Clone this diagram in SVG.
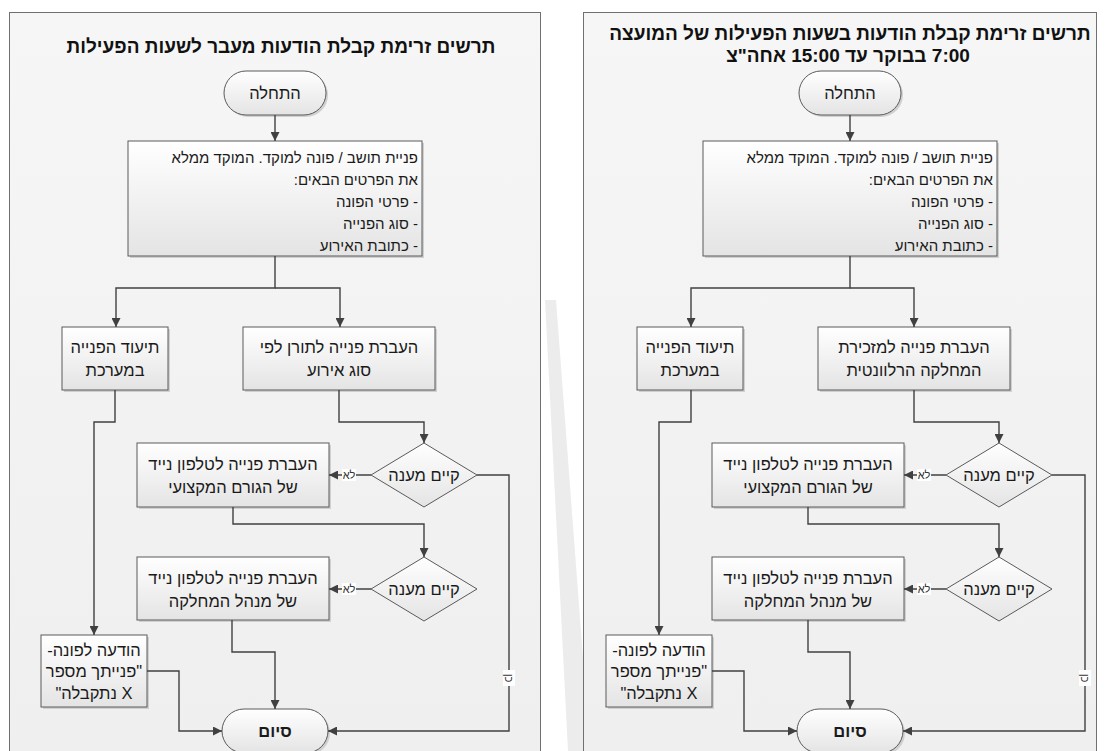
<svg xmlns="http://www.w3.org/2000/svg" width="1105" height="751" viewBox="0 0 1105 751">
<defs>
<linearGradient id="gBox" x1="0" y1="0" x2="0" y2="1"><stop offset="0" stop-color="#ffffff"/><stop offset="1" stop-color="#e4e4e4"/></linearGradient>
<linearGradient id="gPanel" x1="0" y1="0" x2="0" y2="1"><stop offset="0" stop-color="#f6f6f6"/><stop offset="1" stop-color="#efefef"/></linearGradient>
<marker id="arr" viewBox="0 0 10 10" refX="10" refY="5" markerWidth="9" markerHeight="9" markerUnits="userSpaceOnUse" orient="auto"><path d="M0 0 L10 5 L0 10 Z" fill="#404040"/></marker>
</defs>
<style>
.panel{fill:url(#gPanel);stroke:#707070;stroke-width:1}
.box{fill:url(#gBox);stroke:#5a5a5a;stroke-width:1}
.sh{fill:#d0d0d0}
.t{font-family:"Liberation Sans","DejaVu Sans",sans-serif;font-size:16.5px;fill:#1a1a1a;text-anchor:middle;dominant-baseline:central}
.tr{font-family:"Liberation Sans","DejaVu Sans",sans-serif;font-size:15px;fill:#1a1a1a;text-anchor:start;direction:rtl;dominant-baseline:central}
.title{font-family:"Liberation Sans","DejaVu Sans",sans-serif;font-size:19px;font-weight:bold;fill:#111;text-anchor:middle;dominant-baseline:central}
.b{font-weight:bold}
.ca{fill:none;stroke:#404040;stroke-width:1.4;marker-end:url(#arr)}
.lbl{font-family:"Liberation Sans","DejaVu Sans",sans-serif;font-size:11px;fill:#333;text-anchor:middle;dominant-baseline:central}
.lb{fill:#ffffff}
</style>
<rect x="0" y="0" width="1105" height="751" fill="#ffffff"/>
<polygon points="545,300 556,300 590,751 568,751" fill="#ececec"/>
<rect class="panel" x="9.5" y="12.5" width="531" height="750"/>
<rect class="panel" x="583.5" y="12.5" width="513" height="750"/>

<!-- LEFT PANEL -->
<g id="L-title"><text class="title" x="281" y="46" direction="rtl">תרשים זרימת קבלת הודעות מעבר לשעות הפעילות</text></g>
<g id="L-start"><rect class="sh" x="226" y="73" width="102" height="44" rx="22"/><rect class="box" x="224" y="71" width="102" height="44" rx="22"/><text class="t" x="275" y="93" direction="rtl">התחלה</text></g>
<g id="L-main"><rect class="sh" x="130" y="143" width="294" height="115"/><rect class="box" x="128" y="141" width="294" height="115"/>
<text class="tr" x="418" y="157">פניית תושב / פונה למוקד. המוקד ממלא</text>
<text class="tr" x="418" y="179">את הפרטים הבאים:</text>
<text class="tr" x="418" y="201">- פרטי הפונה</text>
<text class="tr" x="418" y="223">- סוג הפנייה</text>
<text class="tr" x="418" y="245">- כתובת האירוע</text></g>
<g id="L-doc"><rect class="sh" x="64" y="329" width="106" height="63"/><rect class="box" x="62" y="327" width="106" height="63"/><text class="t" x="115" y="347" direction="rtl">תיעוד הפנייה</text><text class="t" x="115" y="370" direction="rtl">במערכת</text></g>
<g id="L-transfer"><rect class="sh" x="245" y="329" width="192" height="63"/><rect class="box" x="243" y="327" width="192" height="63"/><text class="t" x="339" y="347" direction="rtl">העברת פנייה לתורן לפי</text><text class="t" x="339" y="370" direction="rtl">סוג אירוע</text></g>
<g id="L-d1"><polygon class="box" points="424,443 477,475 424,507 371,475"/><text class="t" x="424" y="475" direction="rtl">קיים מענה</text></g>
<g id="L-b1"><rect class="sh" x="139" y="445" width="192" height="64"/><rect class="box" x="137" y="443" width="192" height="64"/><text class="t" x="233" y="464" direction="rtl">העברת פנייה לטלפון נייד</text><text class="t" x="233" y="487" direction="rtl">של הגורם המקצועי</text></g>
<g id="L-d2"><polygon class="box" points="424,557 477,589 424,621 371,589"/><text class="t" x="424" y="589" direction="rtl">קיים מענה</text></g>
<g id="L-b2"><rect class="sh" x="139" y="559" width="192" height="63"/><rect class="box" x="137" y="557" width="192" height="63"/><text class="t" x="233" y="578" direction="rtl">העברת פנייה לטלפון נייד</text><text class="t" x="233" y="601" direction="rtl">של מנהל המחלקה</text></g>
<g id="L-msg"><rect class="sh" x="43" y="637" width="106" height="72"/><rect class="box" x="41" y="635" width="106" height="72"/><text class="t" x="94" y="650" direction="rtl">הודעה לפונה-</text><text class="t" x="94" y="671" direction="rtl">"פנייתך מספר</text><text class="t" x="94" y="693" direction="rtl">X נתקבלה"</text></g>
<g id="L-end"><rect class="sh" x="224" y="711" width="106" height="44" rx="22"/><rect class="box" x="222" y="709" width="106" height="44" rx="22"/><text class="t b" x="275" y="731" direction="rtl">סיום</text></g>

<g id="L-connectors">
<path class="ca" d="M275 115 V141"/>
<path class="ca" d="M275 256 V288 H116 V327"/>
<path class="ca" d="M275 288 H340 V327"/>
<path class="ca" d="M339 390 V422 H424 V443"/>
<path class="ca" d="M371 475 H329"/>
<path class="ca" d="M233 507 V524 H424 V557"/>
<path class="ca" d="M371 589 H329"/>
<path class="ca" d="M477 475 H509 V731 H328"/>
<path class="ca" d="M232 620 V652 H275 V709"/>
<path class="ca" d="M115 390 V422 H94 V635"/>
<path class="ca" d="M147 671 H179 V731 H222"/>
<rect class="lb" x="342" y="469" width="14" height="12"/><text class="lbl" x="349" y="475" direction="rtl">לא</text>
<rect class="lb" x="342" y="583" width="14" height="12"/><text class="lbl" x="349" y="589" direction="rtl">לא</text>
<rect class="lb" x="503" y="670" width="12" height="16"/><text class="lbl" x="509" y="678" direction="rtl" transform="rotate(90 509 678)">כן</text>
</g>

<!-- RIGHT PANEL -->
<g id="R-title"><text class="title" x="850" y="33" direction="rtl">תרשים זרימת קבלת הודעות בשעות הפעילות של המועצה</text><text class="title" x="848" y="55" direction="rtl">7:00 בבוקר עד 15:00 אחה"צ</text></g>
<g id="R-start"><rect class="sh" x="801" y="73" width="102" height="44" rx="22"/><rect class="box" x="799" y="71" width="102" height="44" rx="22"/><text class="t" x="850" y="93" direction="rtl">התחלה</text></g>
<g id="R-main"><rect class="sh" x="705" y="143" width="294" height="115"/><rect class="box" x="703" y="141" width="294" height="115"/>
<text class="tr" x="993" y="157">פניית תושב / פונה למוקד. המוקד ממלא</text>
<text class="tr" x="993" y="179">את הפרטים הבאים:</text>
<text class="tr" x="993" y="201">- פרטי הפונה</text>
<text class="tr" x="993" y="223">- סוג הפנייה</text>
<text class="tr" x="993" y="245">- כתובת האירוע</text></g>
<g id="R-doc"><rect class="sh" x="639" y="329" width="106" height="63"/><rect class="box" x="637" y="327" width="106" height="63"/><text class="t" x="690" y="347" direction="rtl">תיעוד הפנייה</text><text class="t" x="690" y="370" direction="rtl">במערכת</text></g>
<g id="R-transfer"><rect class="sh" x="820" y="329" width="192" height="63"/><rect class="box" x="818" y="327" width="192" height="63"/><text class="t" x="914" y="347" direction="rtl">העברת פנייה למזכירת</text><text class="t" x="914" y="370" direction="rtl">המחלקה הרלוונטית</text></g>
<g id="R-d1"><polygon class="box" points="999,443 1052,475 999,507 946,475"/><text class="t" x="999" y="475" direction="rtl">קיים מענה</text></g>
<g id="R-b1"><rect class="sh" x="714" y="445" width="192" height="64"/><rect class="box" x="712" y="443" width="192" height="64"/><text class="t" x="808" y="464" direction="rtl">העברת פנייה לטלפון נייד</text><text class="t" x="808" y="487" direction="rtl">של הגורם המקצועי</text></g>
<g id="R-d2"><polygon class="box" points="999,557 1052,589 999,621 946,589"/><text class="t" x="999" y="589" direction="rtl">קיים מענה</text></g>
<g id="R-b2"><rect class="sh" x="714" y="559" width="192" height="63"/><rect class="box" x="712" y="557" width="192" height="63"/><text class="t" x="808" y="578" direction="rtl">העברת פנייה לטלפון נייד</text><text class="t" x="808" y="601" direction="rtl">של מנהל המחלקה</text></g>
<g id="R-msg"><rect class="sh" x="608" y="637" width="106" height="72"/><rect class="box" x="606" y="635" width="106" height="72"/><text class="t" x="659" y="650" direction="rtl">הודעה לפונה-</text><text class="t" x="659" y="671" direction="rtl">"פנייתך מספר</text><text class="t" x="659" y="693" direction="rtl">X נתקבלה"</text></g>
<g id="R-end"><rect class="sh" x="799" y="711" width="106" height="44" rx="22"/><rect class="box" x="797" y="709" width="106" height="44" rx="22"/><text class="t b" x="850" y="731" direction="rtl">סיום</text></g>

<g id="R-connectors">
<path class="ca" d="M850 115 V141"/>
<path class="ca" d="M850 256 V288 H691 V327"/>
<path class="ca" d="M850 288 H914 V327"/>
<path class="ca" d="M914 390 V422 H999 V443"/>
<path class="ca" d="M946 475 H904"/>
<path class="ca" d="M808 507 V524 H999 V557"/>
<path class="ca" d="M946 589 H904"/>
<path class="ca" d="M1052 475 H1085 V731 H903"/>
<path class="ca" d="M808 620 V652 H850 V709"/>
<path class="ca" d="M691 390 V422 H659 V635"/>
<path class="ca" d="M712 671 H744 V731 H797"/>
<rect class="lb" x="917" y="469" width="14" height="12"/><text class="lbl" x="924" y="475" direction="rtl">לא</text>
<rect class="lb" x="917" y="583" width="14" height="12"/><text class="lbl" x="924" y="589" direction="rtl">לא</text>
<rect class="lb" x="1079" y="670" width="12" height="16"/><text class="lbl" x="1085" y="678" direction="rtl" transform="rotate(90 1085 678)">כן</text>
</g>
</svg>
